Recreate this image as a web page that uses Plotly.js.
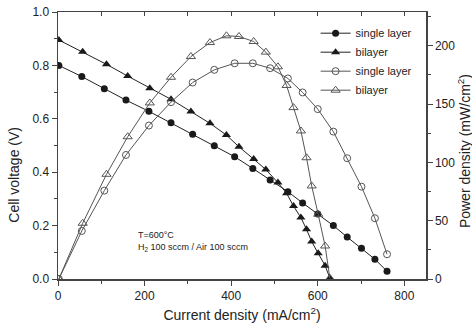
<!DOCTYPE html>
<html>
<head>
<meta charset="utf-8">
<script src="https://cdn.plot.ly/plotly-3.0.1.min.js"></script>
<style>html,body{margin:0;padding:0;background:#fff;overflow:hidden;}#chart{width:472px;height:332px;}</style>
</head>
<body>
<div id="chart"></div>
<script>
// Single layer cell
const singleCurrent = [2, 55, 107, 157, 210, 261, 311, 361, 408, 450, 490, 531, 565, 600, 636, 668, 701, 732, 760];
const singleVoltage = [0.800, 0.758, 0.713, 0.670, 0.628, 0.585, 0.542, 0.499, 0.458, 0.414, 0.371, 0.327, 0.285, 0.243, 0.200, 0.157, 0.115, 0.074, 0.029];
const singlePower = [0, 41.2, 75.8, 106.4, 131.6, 151.7, 168.5, 179.4, 185.0, 185.0, 180.8, 172.0, 160.0, 145.7, 126.4, 103.6, 79.2, 52.1, 21.2];
// Bilayer cell
const biCurrent = [2, 57, 112, 161, 212, 261, 307, 351, 389, 418, 452, 480, 508, 528, 544, 561, 574, 586, 601, 617, 628];
const biVoltage = [0.895, 0.851, 0.804, 0.760, 0.714, 0.673, 0.627, 0.583, 0.539, 0.495, 0.449, 0.410, 0.361, 0.321, 0.273, 0.230, 0.186, 0.140, 0.096, 0.050, 0.003];
const biPower = [0, 47.8, 89.8, 122.0, 151.0, 173.0, 190.8, 202.8, 208.6, 208.0, 203.7, 194.6, 182.0, 166.0, 147.0, 127.0, 104.0, 79.8, 55.5, 28.3, 0.6];

const seriesNames = ["single layer", "bilayer", "single layer", "bilayer"];
const leftTitle = "Cell voltage (V)";
const rightTitle = "Power density (mW/cm<sup>2</sup>)";
const xTitle = "Current density (mA/cm<sup>2</sup>)";
const noteLines = ["T=600°C", "H<sub>2</sub> 100 sccm / Air 100 sccm"];

const font = "Liberation Sans, Arial, sans-serif";
const dark = "#1a1a1a";
const grey = "#555555";

const traces = [
  {x: singleCurrent, y: singleVoltage, name: seriesNames[0], mode: "lines+markers",
   line: {color: "#222", width: 1}, marker: {symbol: "circle", size: 7, color: dark}},
  {x: biCurrent, y: biVoltage, name: seriesNames[1], mode: "lines+markers",
   line: {color: "#222", width: 1}, marker: {symbol: "triangle-up", size: 8, color: dark}},
  {x: singleCurrent, y: singlePower, name: seriesNames[2], mode: "lines+markers", yaxis: "y2",
   line: {color: grey, width: 1}, marker: {symbol: "circle-open", size: 7, color: grey, line: {width: 1, color: grey}}},
  {x: biCurrent, y: biPower, name: seriesNames[3], mode: "lines+markers", yaxis: "y2",
   line: {color: grey, width: 1}, marker: {symbol: "triangle-up-open", size: 8, color: grey, line: {width: 1, color: grey}}},
  // carrier for the top frame axis (no visible mark)
  {x: [0], y: [0], xaxis: "x2", yaxis: "y", mode: "markers", marker: {opacity: 0}, showlegend: false, hoverinfo: "skip"}
];

const axisLine = {showline: true, linecolor: "#444", linewidth: 1.5, zeroline: false, showgrid: false,
  tickcolor: "#444", tickfont: {family: font, size: 12, color: "#222"}};

const layout = {
  width: 472, height: 332,
  margin: {l: 58, r: 46, t: 12, b: 53},
  paper_bgcolor: "#fff", plot_bgcolor: "#fff",
  font: {family: font, color: "#222"},
  showlegend: true,
  legend: {x: 0.70, y: 0.975, xanchor: "left", yanchor: "top", bgcolor: "rgba(0,0,0,0)",
    font: {family: font, size: 11, color: "#222"}, tracegroupgap: 0, itemwidth: 30},
  xaxis: Object.assign({}, axisLine, {range: [0, 850], dtick: 200, tick0: 0, ticks: "outside", ticklen: 5,
    minor: {dtick: 100, ticks: "outside", ticklen: 3, tickcolor: "#444"},
    title: {text: xTitle, font: {family: font, size: 14, color: "#222"}, standoff: 8}}),
  xaxis2: {overlaying: "x", side: "top", range: [0, 850], dtick: 100, tick0: 0, ticks: "inside", ticklen: 4,
    tickcolor: "#444", showticklabels: false, showline: true, linecolor: "#444", linewidth: 1.5,
    showgrid: false, zeroline: false},
  yaxis: Object.assign({}, axisLine, {range: [0, 1.0], dtick: 0.2, tick0: 0, tickformat: ".1f", ticks: "outside", ticklen: 5,
    minor: {dtick: 0.1, ticks: "outside", ticklen: 3, tickcolor: "#444"}}),
  yaxis2: Object.assign({}, axisLine, {overlaying: "y", side: "right", range: [0, 229], dtick: 50, tick0: 0,
    ticks: "outside", ticklen: 5,
    minor: {dtick: 25, ticks: "outside", ticklen: 3, tickcolor: "#444"}}),
  annotations: [
    {xref: "x", yref: "y", x: 180, y: 0.165, text: noteLines[0], showarrow: false, xanchor: "left",
     font: {family: font, size: 9, color: "#222"}},
    {xref: "x", yref: "y", x: 180, y: 0.118, text: noteLines[1], showarrow: false, xanchor: "left",
     font: {family: font, size: 9, color: "#222"}},
    {xref: "paper", yref: "paper", x: -0.12, y: 0.39, text: leftTitle, textangle: -90, showarrow: false,
     xanchor: "center", yanchor: "middle", font: {family: font, size: 14, color: "#222"}},
    {xref: "paper", yref: "paper", x: 1.104, y: 0.48, text: rightTitle, textangle: -90, showarrow: false,
     xanchor: "center", yanchor: "middle", font: {family: font, size: 14, color: "#222"}}
  ]
};

Plotly.newPlot("chart", traces, layout, {staticPlot: true, displayModeBar: false});
</script>
</body>
</html>
